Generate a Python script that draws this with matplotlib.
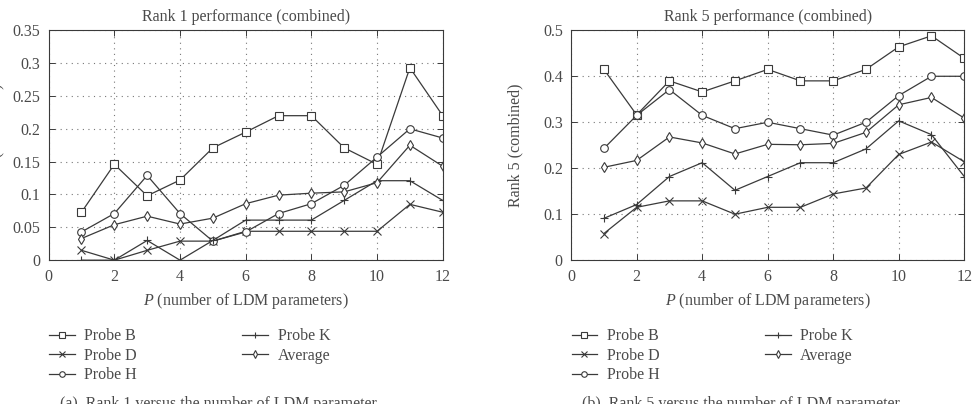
import matplotlib.pyplot as plt
from matplotlib.lines import Line2D

P = [1, 2, 3, 4, 5, 6, 7, 8, 9, 10, 11, 12]

# Rank 1 values
r1_probe_b = [0.073, 0.146, 0.098, 0.122, 0.171, 0.195, 0.220, 0.220, 0.171, 0.146, 0.293, 0.220]
r1_probe_d = [0.015, 0.0, 0.015, 0.029, 0.029, 0.044, 0.044, 0.044, 0.044, 0.044, 0.085, 0.073]
r1_probe_h = [0.043, 0.071, 0.129, 0.071, 0.029, 0.043, 0.071, 0.086, 0.114, 0.157, 0.200, 0.186]
r1_probe_k = [0.0, 0.0, 0.030, 0.0, 0.030, 0.061, 0.061, 0.061, 0.091, 0.121, 0.121, 0.091]
r1_average = [0.033, 0.054, 0.067, 0.055, 0.064, 0.086, 0.099, 0.102, 0.104, 0.118, 0.175, 0.143]

# Rank 5 values
r5_probe_b = [0.415, 0.316, 0.390, 0.366, 0.390, 0.415, 0.390, 0.390, 0.415, 0.464, 0.488, 0.439]
r5_probe_d = [0.058, 0.115, 0.129, 0.129, 0.100, 0.115, 0.115, 0.144, 0.157, 0.230, 0.257, 0.214]
r5_probe_h = [0.243, 0.315, 0.371, 0.315, 0.286, 0.300, 0.286, 0.272, 0.300, 0.358, 0.400, 0.400]
r5_probe_k = [0.091, 0.121, 0.182, 0.212, 0.152, 0.182, 0.212, 0.212, 0.242, 0.303, 0.273, 0.182]
r5_average = [0.202, 0.217, 0.268, 0.255, 0.231, 0.252, 0.251, 0.254, 0.278, 0.338, 0.354, 0.309]

labels = ["Probe B", "Probe D", "Probe H", "Probe K", "Average"]
markers = ["s", "x", "o", "+", "d"]

r1_ticks = [0, 0.05, 0.1, 0.15, 0.2, 0.25, 0.3, 0.35]
r1_ticklabels = ["0", "0.05", "0.1", "0.15", "0.2", "0.25", "0.3", "0.35"]
r5_ticks = [0, 0.1, 0.2, 0.3, 0.4, 0.5]
r5_ticklabels = ["0", "0.1", "0.2", "0.3", "0.4", "0.5"]

plt.rcParams["font.family"] = ["Liberation Serif", "DejaVu Serif"]
plt.rcParams["mathtext.fontset"] = "custom"
plt.rcParams["mathtext.it"] = "Liberation Serif:italic"
plt.rcParams["mathtext.rm"] = "Liberation Serif"
line_c = "#3a3a3a"
text_c = "#4a4a4a"
fs = 11.5

fig = plt.figure(figsize=(9.73, 4.04), dpi=100)
ax1 = fig.add_axes([0.05, 0.356, 0.405, 0.569])
ax2 = fig.add_axes([0.587, 0.356, 0.404, 0.569])


def draw(ax, series, ticks, ticklabels, ymax, title, ylabel, caption, cap_x):
    for vals, m, lab in zip(series, markers, labels):
        ax.plot(P, vals, color=line_c, lw=0.9, marker=m, markersize=6 if m in "x+" else 5.5,
                markerfacecolor="white", markeredgecolor=line_c, markeredgewidth=0.8, label=lab)
    ax.set_xlim(0, 12)
    ax.set_ylim(0, ymax)
    ax.set_xticks(range(0, 13, 2))
    ax.set_yticks(ticks)
    ax.set_yticklabels(ticklabels)
    ax.tick_params(direction="in", top=True, right=True, length=4, width=0.7,
                   labelsize=fs, labelcolor=text_c, color=line_c, pad=6)
    ax.grid(True, linestyle=(0, (1, 4)), color="#777777", lw=0.8)
    for s in ax.spines.values():
        s.set_color(line_c)
        s.set_linewidth(0.8)
    ax.set_title(title, fontsize=fs, color=text_c, pad=7)
    ax.set_xlabel("$P$ (number of LDM parameters)", fontsize=fs, color=text_c, labelpad=5)
    ax.set_ylabel(ylabel, fontsize=fs, color=text_c)
    handles = [Line2D([], [], color=line_c, lw=0.9, marker=m, markersize=4,
                      markerfacecolor="white", markeredgecolor=line_c, markeredgewidth=0.8)
               for m in markers]
    ax.legend(handles, labels, ncol=2, loc="upper left", bbox_to_anchor=(-0.015, -0.268),
              frameon=False, fontsize=fs, labelcolor=text_c, handlelength=1.6,
              handletextpad=0.6, columnspacing=6.6, labelspacing=0.22, borderaxespad=0)
    fig.text(cap_x, 0.0, caption, fontsize=fs, color=text_c, ha="left", va="center")


draw(ax1, [r1_probe_b, r1_probe_d, r1_probe_h, r1_probe_k, r1_average], r1_ticks, r1_ticklabels,
     0.35, "Rank 1 performance (combined)", "Rank 1 (combined)",
     "(a)  Rank 1 versus the number of LDM parameter.", 0.062)
draw(ax2, [r5_probe_b, r5_probe_d, r5_probe_h, r5_probe_k, r5_average], r5_ticks, r5_ticklabels,
     0.5, "Rank 5 performance (combined)", "Rank 5 (combined)",
     "(b)  Rank 5 versus the number of LDM parameter.", 0.598)
ax1.yaxis.set_label_coords(-0.112, 0.5)
ax2.yaxis.set_label_coords(-0.122, 0.5)

plt.savefig("out.png", dpi=100)
